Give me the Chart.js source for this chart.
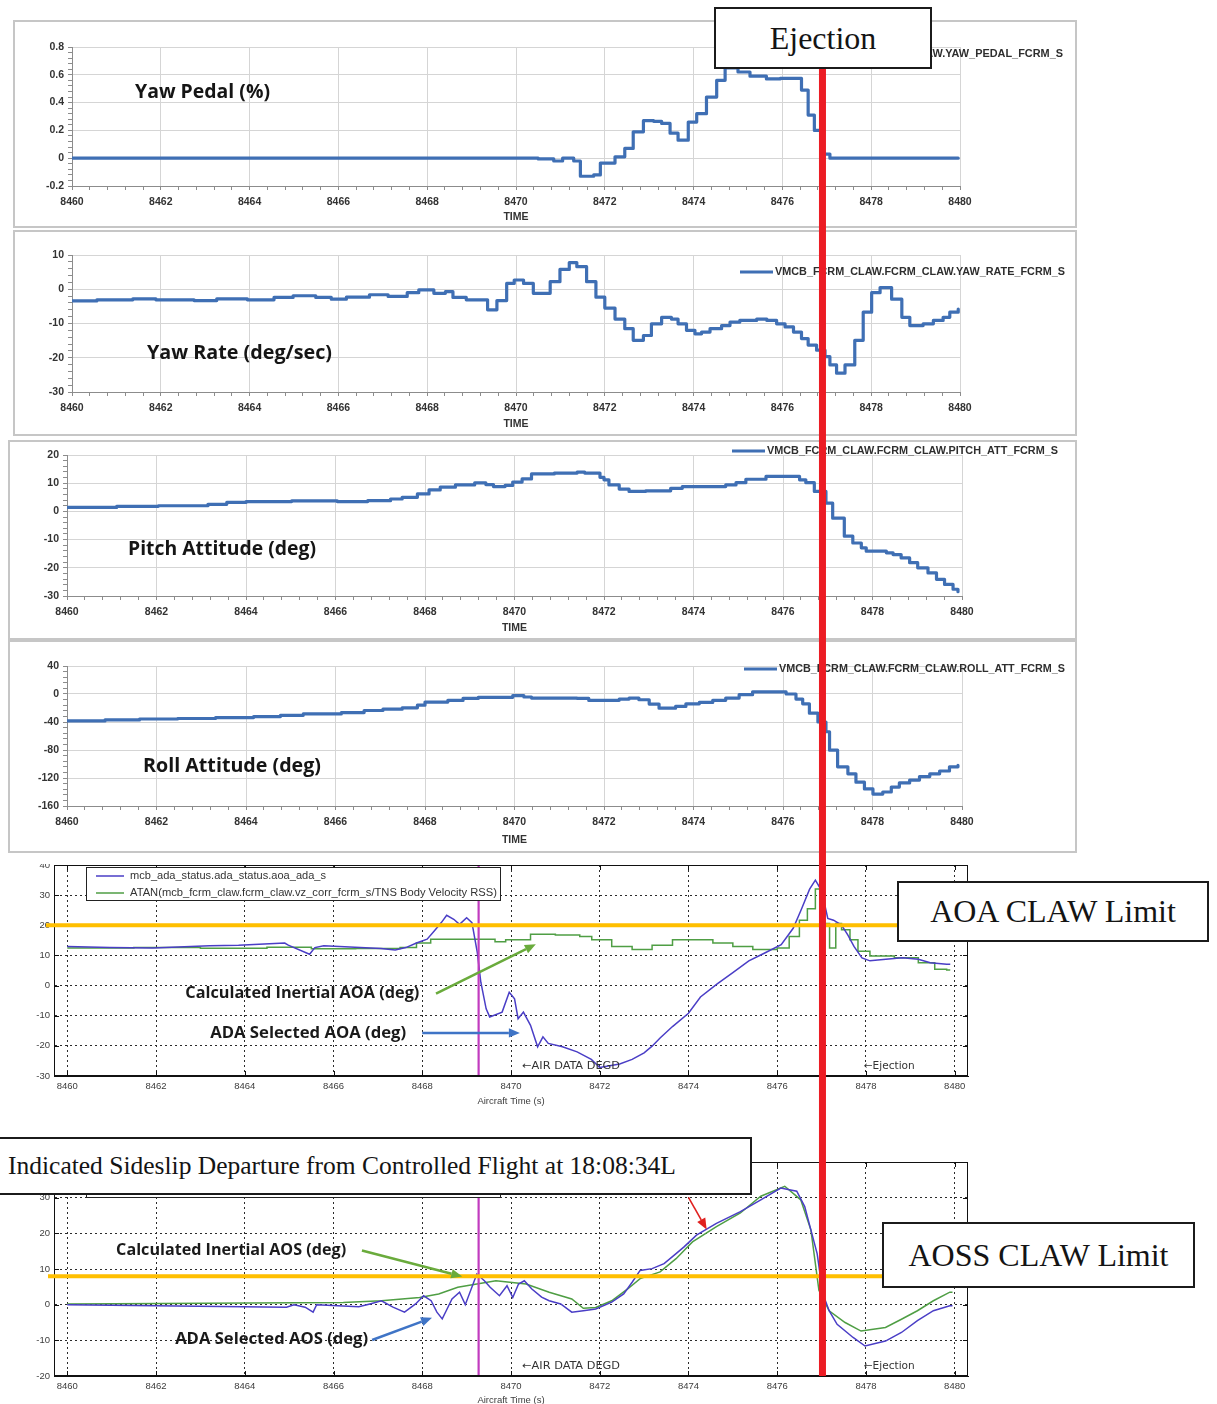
<!DOCTYPE html>
<html>
<head>
<meta charset="utf-8">
<title>Flight data at ejection</title>
<script src="https://cdn.jsdelivr.net/npm/chart.js@4.4.1/dist/chart.umd.min.js"></script>
<style>
  html, body { margin: 0; padding: 0; background: #fff; }
  body { position: relative; width: 1217px; height: 1404px; overflow: hidden; }
  canvas { position: absolute; display: block; z-index: 1; }
  #overlay { z-index: 2; pointer-events: none; }
  .box {
    position: absolute; box-sizing: border-box; z-index: 3;
    border: 2px solid #1b1b1b; background: #fff; color: #141414;
    font-family: "Liberation Serif", "Times New Roman", serif;
    display: flex; align-items: center; white-space: nowrap;
  }
</style>
</head>
<body>
<canvas id="yawPedal" width="1064" height="208" style="left:13px;top:20px"></canvas>
<canvas id="yawRate" width="1064" height="206" style="left:13px;top:230px"></canvas>
<canvas id="pitch" width="1069" height="200" style="left:8px;top:440px"></canvas>
<canvas id="roll" width="1069" height="213" style="left:8px;top:640px"></canvas>
<canvas id="aoa" width="980" height="251" style="left:10px;top:864px"></canvas>
<canvas id="aos" width="980" height="268" style="left:10px;top:1150px"></canvas>
<canvas id="overlay" width="1217" height="1404" style="left:0;top:0"></canvas>

<div class="box" style="left:714px;top:7px;width:218px;height:62px;font-size:32px;justify-content:center">Ejection</div>
<div class="box" style="left:897px;top:881px;width:312px;height:61px;font-size:32px;justify-content:center">AOA CLAW Limit</div>
<div class="box" style="left:-3px;top:1137px;width:755px;height:58px;font-size:25.5px;padding-left:9px">Indicated Sideslip Departure from Controlled Flight at 18:08:34L</div>
<div class="box" style="left:882px;top:1222px;width:313px;height:66px;font-size:32px;justify-content:center">AOSS CLAW Limit</div>

<script>
// ---------- time axis ----------
const TIME_MIN = 8460;
const TIME_MAX = 8480;
const TIME_TICKS = [8460, 8462, 8464, 8466, 8468, 8470, 8472, 8474, 8476, 8478, 8480];
const EJECT_T = 8477.02;      // ejection instant
const ADA_EVENT_T = 8469.27;  // air data event marker
const AIR_DATA_NOTE_T = 8470.25;
const EJECT_NOTE_T = 8477.95;
const AOA_LIMIT = 20;
const AOS_LIMIT = 8;

// ---------- y tick labels ----------
const YAW_PEDAL_TICKS = [-0.2, 0, 0.2, 0.4, 0.6, 0.8];
const YAW_RATE_TICKS = [-30, -20, -10, 0, 10];
const PITCH_TICKS = [-30, -20, -10, 0, 10, 20];
const ROLL_TICKS = [-160, -120, -80, -40, 0, 40];
const AOA_TICKS = [-30, -20, -10, 0, 10, 20, 30, 40];
const AOS_TICKS = [-20, -10, 0, 10, 20, 30, 40];

// ---------- yaw pedal (%) ----------
const YAW_PEDAL_T = [8460, 8470.5, 8470.85, 8471.05, 8471.3, 8471.45, 8471.75, 8471.9, 8472.23, 8472.45,
  8472.64, 8472.87, 8473.1, 8473.28, 8473.47, 8473.65, 8473.88, 8474.07, 8474.29, 8474.52,
  8474.71, 8475.0, 8475.27, 8475.64, 8475.95, 8476.43, 8476.58, 8476.72, 8476.88, 8477.07, 8479.96];
const YAW_PEDAL = [0, -0.005, -0.02, 0, -0.02, -0.13, -0.12, -0.035, 0.01, 0.07,
  0.19, 0.27, 0.265, 0.25, 0.18, 0.13, 0.26, 0.32, 0.44, 0.56,
  0.65, 0.62, 0.59, 0.57, 0.575, 0.49, 0.31, 0.2, 0.03, 0.0, 0.0];

// ---------- yaw rate (deg/sec) ----------
const YAW_RATE_T = [8460, 8460.56, 8461.37, 8461.89, 8462.75, 8463.26, 8463.95, 8464.55, 8464.98, 8465.49,
  8465.84, 8466.18, 8466.7, 8467.12, 8467.55, 8467.81, 8468.15, 8468.41, 8468.58, 8468.88,
  8469.36, 8469.57, 8469.79, 8469.96, 8470.17, 8470.39, 8470.77, 8470.99, 8471.2, 8471.37,
  8471.59, 8471.8, 8472.0, 8472.23, 8472.45, 8472.64, 8472.87, 8473.05, 8473.28, 8473.5,
  8473.65, 8473.84, 8474.03, 8474.18, 8474.37, 8474.63, 8474.82, 8475.04, 8475.42, 8475.65,
  8475.87, 8476.06, 8476.25, 8476.43, 8476.58, 8476.77, 8476.96, 8477.07, 8477.22, 8477.41,
  8477.63, 8477.82, 8478.01, 8478.2, 8478.46, 8478.69, 8478.87, 8479.17, 8479.4, 8479.62,
  8479.77, 8479.96];
const YAW_RATE = [-3.4, -3.1, -2.8, -3.1, -3.3, -2.8, -3.1, -2.4, -1.9, -2.4,
  -2.9, -2.3, -1.6, -2.1, -1.0, -0.2, -1.2, -0.7, -2.4, -3.1,
  -6.0, -3.3, 1.7, 2.7, 1.7, -1.2, 2.2, 5.8, 7.8, 6.6,
  2.2, -2.3, -5.5, -8.7, -11.5, -14.9, -13.5, -10.1, -8.2, -8.7,
  -10.1, -12.0, -13.0, -12.5, -11.5, -10.6, -9.6, -9.1, -8.7, -9.1,
  -10.1, -11.0, -12.5, -14.4, -16.3, -17.8, -19.7, -22.1, -24.5, -22.1,
  -14.9, -6.7, -1.0, 0.5, -2.9, -8.2, -10.6, -10.1, -9.1, -8.2,
  -6.7, -5.8];

// ---------- pitch attitude (deg) ----------
const PITCH_T = [8460, 8461.11, 8462.04, 8463.15, 8463.57, 8464.0, 8465.02, 8466.04, 8466.72, 8467.23,
  8467.49, 8467.83, 8468.09, 8468.34, 8468.68, 8469.11, 8469.36, 8469.53, 8469.79, 8469.96,
  8470.17, 8470.38, 8470.89, 8471.4, 8471.57, 8471.91, 8472.0, 8472.11, 8472.34, 8472.56,
  8472.93, 8473.49, 8473.75, 8474.72, 8474.95, 8475.17, 8475.62, 8476.37, 8476.51, 8476.7,
  8476.96, 8477.11, 8477.37, 8477.56, 8477.75, 8477.86, 8478.31, 8478.46, 8478.64, 8478.83,
  8479.01, 8479.24, 8479.43, 8479.61, 8479.8, 8479.91];
const PITCH = [1.4, 1.8, 2.0, 2.5, 3.2, 3.5, 3.7, 3.5, 3.8, 4.4,
  5.0, 6.2, 7.6, 8.6, 9.4, 10.1, 9.5, 8.8, 9.2, 10.4,
  11.5, 13.3, 13.6, 13.9, 13.6, 12.1, 11.2, 9.4, 7.9, 7.1,
  7.3, 8.2, 8.8, 9.4, 10.2, 11.4, 12.4, 11.2, 10.2, 7.1,
  2.9, -2.4, -8.8, -11.2, -12.9, -14.1, -14.7, -15.3, -16.5, -18.2,
  -20.0, -21.8, -24.1, -25.9, -27.6, -28.5];

// ---------- roll attitude (deg) ----------
const ROLL_T = [8460, 8460.85, 8461.62, 8462.47, 8463.32, 8464.17, 8464.77, 8465.28, 8466.13, 8466.64,
  8467.06, 8467.49, 8467.83, 8468.0, 8468.51, 8468.85, 8469.19, 8469.96, 8470.21, 8470.38,
  8471.4, 8471.66, 8472.0, 8472.34, 8472.56, 8472.78, 8473.01, 8473.23, 8473.6, 8473.83,
  8474.13, 8474.43, 8474.72, 8475.02, 8475.32, 8476.07, 8476.29, 8476.44, 8476.59, 8476.78,
  8476.96, 8477.04, 8477.22, 8477.45, 8477.63, 8477.82, 8478.01, 8478.23, 8478.42, 8478.6,
  8478.83, 8479.05, 8479.28, 8479.5, 8479.72, 8479.91];
const ROLL = [-38.5, -37, -35.7, -35, -33.7, -32.3, -30.4, -28.4, -26.5, -23.6,
  -21.7, -19.8, -15.9, -11.6, -9.2, -6.3, -4.8, -2.4, -4.3, -5.8,
  -6.3, -9.2, -9.1, -7.2, -5.8, -8.2, -14.4, -20.2, -17.8, -14.0,
  -12.0, -9.1, -5.8, -1.0, 2.9, 0, -7.2, -14.0, -27.4, -40,
  -53.9, -80.3, -104, -114, -126, -135.6, -143, -140, -133, -127,
  -123, -118, -114, -110, -104, -102];

// ---------- angle of attack (deg) ----------
const AOA_ADA_T = [8460, 8460.96, 8461.93, 8463.21, 8463.86, 8464.9, 8464.98, 8465.46, 8465.58, 8465.78,
  8467.07, 8467.39, 8467.63, 8467.87, 8468.11, 8468.27, 8468.43, 8468.55, 8468.71, 8468.84,
  8469.0, 8469.12, 8469.24, 8469.32, 8469.44, 8469.52, 8469.8, 8469.96, 8470.08, 8470.16,
  8470.28, 8470.44, 8470.6, 8470.72, 8470.84, 8471.16, 8471.49, 8471.81, 8472.0, 8472.45,
  8472.73, 8473.0, 8473.18, 8473.36, 8473.64, 8474.0, 8474.27, 8474.64, 8475.0, 8475.36,
  8475.73, 8476.09, 8476.36, 8476.55, 8476.73, 8476.86, 8477.0, 8477.14, 8477.27, 8477.45,
  8477.59, 8477.73, 8477.91, 8478.09, 8478.45, 8478.82, 8479.18, 8479.45, 8479.82, 8479.9];
const AOA_ADA = [13.0, 12.6, 12.5, 13.2, 13.4, 14.1, 13.4, 10.4, 12.6, 13.2,
  12.3, 11.8, 12.6, 14.1, 15.4, 18.1, 20.9, 23.3, 22.0, 20.3,
  22.5, 20.9, 11.0, 1.1, -7.7, -10.4, -8.8, -2.2, -4.4, -11.0,
  -8.8, -13.2, -20.3, -17.0, -19.2, -20.3, -22.0, -24.5, -27.2, -26.0,
  -24.5, -22.3, -20.1, -17.4, -13.6, -9.2, -3.8, 0.5, 4.3, 8.2,
  10.9, 13.6, 19.0, 25.5, 32.0, 35.0, 31.5, 22.3, 21.7, 20.1,
  16.8, 13.0, 9.2, 8.2, 8.7, 9.2, 8.7, 7.6, 7.1, 7.1];
const AOA_INERTIAL_T = [8460, 8461.5, 8463.0, 8464.5, 8465.5, 8466.5, 8467.5, 8467.87, 8468.19, 8469.64,
  8469.88, 8470.44, 8471.0, 8471.55, 8471.82, 8472.27, 8472.73, 8473.18, 8473.64, 8474.55,
  8475.0, 8475.45, 8476.0, 8476.27, 8476.5, 8476.68, 8476.86, 8477.0, 8477.18, 8477.32,
  8477.45, 8477.64, 8477.82, 8478.09, 8478.64, 8479.18, 8479.55, 8479.82, 8479.9];
const AOA_INERTIAL = [12.5, 12.6, 12.4, 12.7, 12.2, 12.3, 12.6, 14.1, 15.4, 14.5,
  15.2, 17.0, 16.8, 16.3, 15.2, 13.0, 12.0, 13.4, 15.2, 14.1,
  13.0, 12.0, 12.5, 16.3, 21.7, 25.5, 32.0, 20.6, 12.5, 20.6,
  18.5, 15.2, 11.4, 9.8, 9.2, 7.6, 5.4, 5.2, 5.2];

// ---------- angle of sideslip (deg) ----------
const AOS_ADA_T = [8460, 8464.94, 8465.11, 8465.36, 8465.54, 8465.62, 8466.57, 8466.82, 8467.08, 8467.34,
  8467.6, 8467.85, 8468.03, 8468.2, 8468.33, 8468.45, 8468.54, 8468.67, 8468.84, 8468.97,
  8469.23, 8469.4, 8469.53, 8469.74, 8469.91, 8470.04, 8470.17, 8470.3, 8470.47, 8470.69,
  8470.86, 8471.12, 8471.37, 8471.63, 8471.91, 8472.27, 8472.54, 8472.73, 8472.91, 8473.18,
  8473.45, 8473.72, 8473.9, 8474.18, 8474.63, 8475.17, 8475.63, 8476.08, 8476.44, 8476.62,
  8476.76, 8476.9, 8477.03, 8477.17, 8477.35, 8477.71, 8477.98, 8478.44, 8478.8, 8479.16,
  8479.52, 8479.89, 8479.95];
const AOS_ADA = [0, -0.7, 0, -0.7, -2.1, 0, -0.6, 0.2, 1.1, -0.7,
  -2.1, 0.2, 2.5, 1.1, -2.1, -4.0, -1.7, 1.6, 3.5, 0,
  8.6, 6.7, 4.9, 2.5, 5.3, 2.0, 5.8, 6.7, 4.4, 2.1,
  1.1, 0.2, -2.1, -1.7, -1.2, 0.7, 3.0, 6.3, 9.6, 10.1,
  11.5, 14.3, 16.2, 19.5, 22.8, 26.1, 29.4, 32.7, 31.8, 27.5,
  20.9, 14.3, 3.0, -1.7, -5.5, -9.2, -11.6, -10.2, -7.8, -4.5,
  -1.7, -0.3, -0.3];
const AOS_INERTIAL_T = [8460, 8466.22, 8467.08, 8467.94, 8468.37, 8468.8, 8469.23, 8469.66, 8470.34, 8470.86,
  8471.37, 8471.63, 8471.91, 8472.27, 8472.63, 8472.91, 8473.36, 8473.72, 8474.09, 8474.63,
  8475.17, 8475.63, 8476.17, 8476.53, 8476.76, 8476.94, 8477.17, 8477.53, 8477.89, 8478.44,
  8478.8, 8479.16, 8479.52, 8479.89, 8479.95];
const AOS_INERTIAL = [0.2, 0.6, 1.1, 2.0, 3.0, 4.9, 5.8, 6.7, 5.8, 3.5,
  1.6, -1.0, -0.8, 1.1, 4.4, 7.3, 9.2, 12.9, 17.6, 21.9,
  25.7, 30.4, 33.2, 29.4, 20.9, 4.0, -1.7, -5.0, -7.4, -6.4,
  -4.1, -1.7, 1.1, 3.5, 3.5];

// ---------- helpers ----------
const SANS = '"Liberation Sans", Arial, sans-serif';
const NOTE_FONT = '"DejaVu Sans Condensed", "DejaVu Sans", sans-serif';
const TITLE_FONT = '"Open Sans", Lato, sans-serif';
const EXCEL_BLUE = '#3f6fb4';
const ML_BLUE = '#4a3ec6';
const ML_GREEN = '#4f9e44';

const pts = (T, V) => T.map((t, i) => ({ x: t, y: V[i] }));
const near = (list, v) => list.some(m => Math.abs(m - v) < 1e-6);
function withMinors(major, parts) {
  const out = [];
  for (let i = 0; i < major.length - 1; i++) {
    const a = major[i], step = (major[i + 1] - a) / parts;
    for (let k = 0; k < parts; k++) out.push(a + k * step);
  }
  out.push(major[major.length - 1]);
  return out;
}
const fmt = v => String(Number(v.toFixed(1)));

// draw text squeezed or stretched horizontally to a given width
function drawFitted(ctx, text, x, y, width) {
  const w = ctx.measureText(text).width;
  ctx.save();
  ctx.translate(x, y);
  ctx.scale(width / w, 1);
  ctx.fillText(text, 0, 0);
  ctx.restore();
}

// Spreadsheet-style panel: frame, bold caption, legend entry at the upper right
const sheetDecor = {
  id: 'sheetDecor',
  beforeDraw(chart) {
    const { ctx, width, height } = chart;
    ctx.save();
    ctx.fillStyle = '#fff';
    ctx.fillRect(0, 0, width, height);
    ctx.strokeStyle = '#c6c6c6';
    ctx.lineWidth = 2;
    ctx.strokeRect(1, 1, width - 2, height - 2);
    ctx.restore();
  },
  afterDraw(chart, args, o) {
    const { ctx } = chart;
    ctx.save();
    ctx.fillStyle = '#151515';
    ctx.textBaseline = 'middle';
    ctx.font = 'bold 19px ' + TITLE_FONT;
    drawFitted(ctx, o.title, o.titleX, o.titleY, o.titleW);
    ctx.font = 'bold 10px ' + SANS;
    ctx.fillStyle = '#2e2e2e';
    const left = o.legendRight - o.legendW;
    drawFitted(ctx, o.legend, left, o.legendY, o.legendW);
    ctx.strokeStyle = EXCEL_BLUE;
    ctx.lineWidth = 3;
    ctx.beginPath();
    ctx.moveTo(left - 35, o.legendY);
    ctx.lineTo(left - 2, o.legendY);
    ctx.stroke();
    ctx.restore();
  }
};

function sheetChart(id, cfg) {
  const xAll = withMinors(TIME_TICKS, 5);
  const yAll = withMinors(cfg.yTicks, 5);
  const tickFont = { family: SANS, size: 10.5, weight: 'bold' };
  return new Chart(document.getElementById(id), {
    type: 'line',
    data: {
      datasets: [{
        data: pts(cfg.t, cfg.v), borderColor: EXCEL_BLUE, borderWidth: 3.2,
        pointRadius: 0, stepped: 'before', fill: false,
        borderJoinStyle: 'round', borderCapStyle: 'round'
      }]
    },
    options: {
      responsive: false, animation: false, events: [],
      layout: { padding: cfg.pad },
      plugins: { legend: { display: false }, tooltip: { enabled: false }, sheetDecor: cfg.decor },
      scales: {
        x: {
          type: 'linear', min: TIME_MIN, max: TIME_MAX,
          afterBuildTicks: s => { s.ticks = xAll.map(v => ({ value: v })); },
          afterFit: s => { s.height = cfg.xh; },
          ticks: { autoSkip: false, maxRotation: 0, minRotation: 0, padding: 6, color: '#333',
            font: tickFont, callback: v => near(TIME_TICKS, v) ? String(Math.round(v)) : '' },
          grid: { color: c => near(TIME_TICKS, c.tick.value) ? '#d5d5d5' : 'rgba(0,0,0,0)',
            lineWidth: 1, tickColor: '#8c8c8c', tickLength: 4 },
          border: { color: '#8c8c8c', width: 1 },
          title: { display: true, text: 'TIME', color: '#333', font: tickFont,
            padding: { top: 0, bottom: cfg.titlePad } }
        },
        y: {
          type: 'linear', min: cfg.yTicks[0], max: cfg.yTicks[cfg.yTicks.length - 1],
          afterBuildTicks: s => { s.ticks = yAll.map(v => ({ value: v })); },
          afterFit: s => { s.width = 59; s.paddingTop = 0; s.paddingBottom = 0; },
          ticks: { autoSkip: false, padding: 4, color: '#333', font: tickFont,
            callback: v => near(cfg.yTicks, v) ? fmt(v) : '' },
          grid: { color: c => near(cfg.yTicks, c.tick.value) ? '#d5d5d5' : 'rgba(0,0,0,0)',
            lineWidth: 1, tickColor: '#8c8c8c', tickLength: 4 },
          border: { color: '#8c8c8c', width: 1 }
        }
      }
    },
    plugins: [sheetDecor]
  });
}

// Plot-tool style panel: boxed axes, inward ticks, legend box, event marker and notes
const plotDecor = {
  id: 'plotDecor',
  afterDatasetsDraw(chart, args, o) {
    const { ctx, chartArea: a, scales: { x, y } } = chart;
    ctx.save();
    const mx = x.getPixelForValue(o.markT);
    ctx.strokeStyle = '#c13cbf';
    ctx.lineWidth = 2.2;
    ctx.beginPath(); ctx.moveTo(mx, a.top); ctx.lineTo(mx, a.bottom); ctx.stroke();

    ctx.strokeStyle = '#111';
    ctx.lineWidth = 1;
    ctx.strokeRect(a.left + 0.5, a.top + 0.5, a.width - 1, a.height - 1);
    ctx.beginPath();
    TIME_TICKS.forEach(t => {
      const px = Math.round(x.getPixelForValue(t)) + 0.5;
      ctx.moveTo(px, a.bottom); ctx.lineTo(px, a.bottom - 5);
      ctx.moveTo(px, a.top); ctx.lineTo(px, a.top + 5);
    });
    o.yTicks.forEach(v => {
      const py = Math.round(y.getPixelForValue(v)) + 0.5;
      ctx.moveTo(a.left, py); ctx.lineTo(a.left + 5, py);
      ctx.moveTo(a.right, py); ctx.lineTo(a.right - 5, py);
    });
    ctx.stroke();

    ctx.fillStyle = '#333';
    ctx.font = '10px ' + NOTE_FONT;
    ctx.textBaseline = 'middle';
    o.notes.forEach(n => drawFitted(ctx, n.text, x.getPixelForValue(n.t), a.bottom - 10, n.w));

    // legend
    const lx = a.left + 32, ly = a.top + o.legendTop, lw = 414, lh = 33;
    ctx.fillStyle = '#fff';
    ctx.fillRect(lx, ly, lw, lh);
    ctx.strokeStyle = '#222';
    ctx.lineWidth = 1;
    ctx.strokeRect(lx + 0.5, ly + 0.5, lw, lh);
    o.legend.forEach((e, i) => {
      const ry = ly + 9 + i * 17;
      ctx.strokeStyle = e.color; ctx.lineWidth = 1.5;
      ctx.beginPath(); ctx.moveTo(lx + 10, ry); ctx.lineTo(lx + 38, ry); ctx.stroke();
      ctx.fillStyle = '#333';
      ctx.font = '10px ' + SANS;
      drawFitted(ctx, e.text, lx + 44, ry, e.w);
    });
    ctx.restore();
  }
};

function plotChart(id, cfg) {
  const tickFont = { family: SANS, size: 9.5 };
  return new Chart(document.getElementById(id), {
    type: 'line',
    data: {
      datasets: cfg.series.map(s => ({
        data: pts(s.t, s.v), borderColor: s.color, borderWidth: 1.5,
        pointRadius: 0, stepped: s.stepped, tension: 0, fill: false
      }))
    },
    options: {
      responsive: false, animation: false, events: [],
      layout: { padding: cfg.pad },
      plugins: { legend: { display: false }, tooltip: { enabled: false }, plotDecor: cfg.decor },
      scales: {
        x: {
          type: 'linear', min: TIME_MIN - 0.3, max: TIME_MAX + 0.3,
          afterBuildTicks: s => { s.ticks = TIME_TICKS.map(v => ({ value: v })); },
          afterFit: s => { s.height = cfg.xh; },
          ticks: { autoSkip: false, maxRotation: 0, minRotation: 0, padding: 5, color: '#3c3c3c',
            font: tickFont, callback: v => String(v) },
          grid: { color: '#2b2b2b', lineWidth: 1, drawTicks: false },
          border: { color: '#111', width: 1, dash: [2, 3] },
          title: { display: true, text: 'Aircraft Time (s)', color: '#3c3c3c', font: tickFont,
            padding: { top: 0, bottom: cfg.titlePad } }
        },
        y: {
          type: 'linear', min: cfg.yTicks[0], max: cfg.yTicks[cfg.yTicks.length - 1],
          afterBuildTicks: s => { s.ticks = cfg.yTicks.map(v => ({ value: v })); },
          afterFit: s => { s.width = 44; s.paddingTop = 0; s.paddingBottom = 0; },
          ticks: { autoSkip: false, padding: 4, color: '#3c3c3c', font: tickFont, callback: v => String(v) },
          grid: { color: '#2b2b2b', lineWidth: 1, drawTicks: false },
          border: { color: '#111', width: 1, dash: [2, 3] }
        }
      }
    },
    plugins: [plotDecor]
  });
}

// ---------- build panels ----------
const yawPedalChart = sheetChart('yawPedal', {
  t: YAW_PEDAL_T, v: YAW_PEDAL, yTicks: YAW_PEDAL_TICKS,
  pad: { left: 0, top: 27, right: 117, bottom: 0 }, xh: 42, titlePad: 5,
  decor: { title: 'Yaw Pedal (%)', titleX: 122, titleY: 73, titleW: 135,
    legend: 'VMCB_FCRM_CLAW.FCRM_CLAW.YAW_PEDAL_FCRM_S', legendRight: 1050, legendY: 34, legendW: 300 }
});
const yawRateChart = sheetChart('yawRate', {
  t: YAW_RATE_T, v: YAW_RATE, yTicks: YAW_RATE_TICKS,
  pad: { left: 0, top: 25, right: 117, bottom: 0 }, xh: 44, titlePad: 6,
  decor: { title: 'Yaw Rate (deg/sec)', titleX: 134, titleY: 124, titleW: 185,
    legend: 'VMCB_FCRM_CLAW.FCRM_CLAW.YAW_RATE_FCRM_S', legendRight: 1052, legendY: 42, legendW: 290 }
});
const pitchChart = sheetChart('pitch', {
  t: PITCH_T, v: PITCH, yTicks: PITCH_TICKS,
  pad: { left: 0, top: 15, right: 115, bottom: 0 }, xh: 44, titlePad: 6,
  decor: { title: 'Pitch Attitude (deg)', titleX: 120, titleY: 110, titleW: 188,
    legend: 'VMCB_FCRM_CLAW.FCRM_CLAW.PITCH_ATT_FCRM_S', legendRight: 1050, legendY: 11, legendW: 291 }
});
const rollChart = sheetChart('roll', {
  t: ROLL_T, v: ROLL, yTicks: ROLL_TICKS,
  pad: { left: 0, top: 26, right: 115, bottom: 0 }, xh: 47, titlePad: 7,
  decor: { title: 'Roll Attitude (deg)', titleX: 135, titleY: 127, titleW: 178,
    legend: 'VMCB_FCRM_CLAW.FCRM_CLAW.ROLL_ATT_FCRM_S', legendRight: 1057, legendY: 29, legendW: 286 }
});

const notes = [
  { text: '\u2190AIR DATA DEGD', t: AIR_DATA_NOTE_T, w: 98 },
  { text: '\u2190Ejection', t: EJECT_NOTE_T, w: 51 }
];

const aoaChart = plotChart('aoa', {
  yTicks: AOA_TICKS, pad: { left: 0, top: 1, right: 22, bottom: 0 }, xh: 39, titlePad: 8,
  series: [
    { t: AOA_ADA_T, v: AOA_ADA, color: ML_BLUE, stepped: false },
    { t: AOA_INERTIAL_T, v: AOA_INERTIAL, color: ML_GREEN, stepped: 'before' }
  ],
  decor: { markT: ADA_EVENT_T, yTicks: AOA_TICKS, notes, legendTop: 2,
    legend: [
      { text: 'mcb_ada_status.ada_status.aoa_ada_s', color: ML_BLUE, w: 196 },
      { text: 'ATAN(mcb_fcrm_claw.fcrm_claw.vz_corr_fcrm_s/TNS Body Velocity RSS)', color: ML_GREEN, w: 367 }
    ] }
});
const aosChart = plotChart('aos', {
  yTicks: AOS_TICKS, pad: { left: 0, top: 12, right: 22, bottom: 0 }, xh: 42, titlePad: 12,
  series: [
    { t: AOS_ADA_T, v: AOS_ADA, color: ML_BLUE, stepped: false },
    { t: AOS_INERTIAL_T, v: AOS_INERTIAL, color: ML_GREEN, stepped: false }
  ],
  decor: { markT: ADA_EVENT_T, yTicks: AOS_TICKS, notes, legendTop: 2,
    legend: [
      { text: 'mcb_ada_status.ada_status.aos_ada_s', color: ML_BLUE, w: 196 },
      { text: 'ASIN(mcb_fcrm_claw.fcrm_claw.vy_corr_fcrm_s/TNS Body Velocity RSS)', color: ML_GREEN, w: 367 }
    ] }
});

// ---------- overlay: limits, ejection line, call-outs ----------
(function drawOverlay() {
  const ctx = document.getElementById('overlay').getContext('2d');
  const off = chart => {
    const el = chart.canvas;
    return { x: parseFloat(el.style.left), y: parseFloat(el.style.top) };
  };
  const P = (chart, t, v) => {
    const o = off(chart);
    return [o.x + chart.scales.x.getPixelForValue(t), o.y + chart.scales.y.getPixelForValue(v)];
  };
  const area = chart => {
    const o = off(chart), a = chart.chartArea;
    return { left: o.x + a.left, right: o.x + a.right, top: o.y + a.top, bottom: o.y + a.bottom };
  };

  // control-law limits
  ctx.strokeStyle = '#ffbf00';
  ctx.lineWidth = 4;
  const aoaY = P(aoaChart, TIME_MIN, AOA_LIMIT)[1];
  const aosY = P(aosChart, TIME_MIN, AOS_LIMIT)[1];
  ctx.beginPath();
  ctx.moveTo(area(aoaChart).left - 8, aoaY); ctx.lineTo(1000, aoaY);
  ctx.moveTo(area(aosChart).left - 6, aosY); ctx.lineTo(1000, aosY);
  ctx.stroke();

  // ejection time across every panel
  const ex = P(aoaChart, EJECT_T, 0)[0];
  ctx.strokeStyle = '#ec1c24';
  ctx.lineWidth = 7;
  ctx.beginPath();
  ctx.moveTo(ex, 40); ctx.lineTo(ex, area(aosChart).bottom);
  ctx.stroke();

  function arrow(p1, p2, color, w, head) {
    const ang = Math.atan2(p2[1] - p1[1], p2[0] - p1[0]);
    const bx = p2[0] - head * Math.cos(ang), by = p2[1] - head * Math.sin(ang);
    ctx.strokeStyle = color; ctx.fillStyle = color; ctx.lineWidth = w;
    ctx.beginPath(); ctx.moveTo(p1[0], p1[1]); ctx.lineTo(bx, by); ctx.stroke();
    const hw = head * 0.42;
    ctx.beginPath();
    ctx.moveTo(p2[0], p2[1]);
    ctx.lineTo(bx + hw * Math.sin(ang), by - hw * Math.cos(ang));
    ctx.lineTo(bx - hw * Math.sin(ang), by + hw * Math.cos(ang));
    ctx.closePath(); ctx.fill();
  }
  function label(text, p, w) {
    ctx.fillStyle = '#1a1a1a';
    ctx.font = 'bold 16.5px ' + TITLE_FONT;
    ctx.textBaseline = 'middle';
    drawFitted(ctx, text, p[0], p[1], w);
  }

  label('Calculated Inertial AOA (deg)', P(aoaChart, 8462.66, -2.7), 234);
  arrow(P(aoaChart, 8468.31, -2.7), P(aoaChart, 8470.56, 13.7), '#6aab3c', 2.5, 11);
  label('ADA Selected AOA (deg)', P(aoaChart, 8463.22, -15.7), 196);
  arrow(P(aoaChart, 8468.0, -15.7), P(aoaChart, 8470.2, -15.7), '#3f74c6', 2.5, 11);

  label('Calculated Inertial AOS (deg)', P(aosChart, 8461.1, 15.2), 230);
  arrow(P(aosChart, 8466.64, 15.2), P(aosChart, 8468.9, 7.9), '#6aab3c', 2.5, 11);
  label('ADA Selected AOS (deg)', P(aosChart, 8462.43, -9.6), 193);
  arrow(P(aosChart, 8466.87, -9.9), P(aosChart, 8468.22, -3.7), '#3f74c6', 2.5, 11);

  arrow(P(aosChart, 8474.0, 30.1), P(aosChart, 8474.41, 21.1), '#e0201f', 1.6, 11);
})();
</script>
</body>
</html>
